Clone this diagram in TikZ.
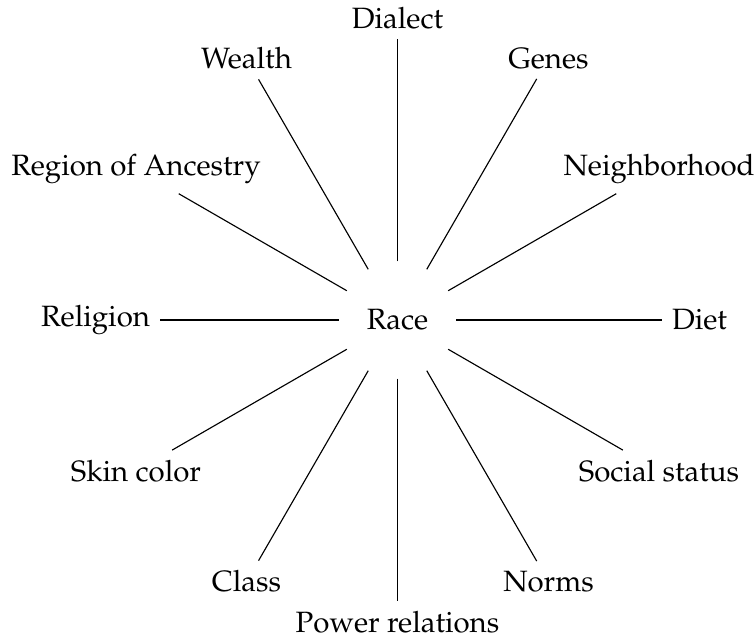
\documentclass[tikz,border=0pt]{standalone}
\usepackage[T1]{fontenc}
\usepackage{mathpazo}
\begin{document}
\begin{tikzpicture}[x=0.3521pt,y=0.3521pt,
  every node/.style={font=\fontsize{10.35}{12.4}\selectfont},
  hub/.style={circle,minimum size=40.8pt,inner sep=0pt},
  leaf/.style={inner sep=3.3pt},
  link/.style={line width=0.4pt,black}]
\useasboundingbox (0,0) rectangle (754,638);
\node[hub] (race) at (397.5,318) {Race};
\foreach \ang/\nm/\txt in {90/dialect/Dialect, 60/genes/Genes, 30/neigh/Neighborhood, 0/diet/Diet, -30/social/Social status, -60/norms/Norms, -90/power/Power relations, -120/class/Class, -150/skin/Skin color, 180/religion/Religion, 150/region/Region of Ancestry, 120/wealth/Wealth}
{
  \node[leaf] (\nm) at ([shift={(\ang:302)}]race.center) {\txt};
  \draw[link] (race) -- (\nm);
}
\end{tikzpicture}
\end{document}
